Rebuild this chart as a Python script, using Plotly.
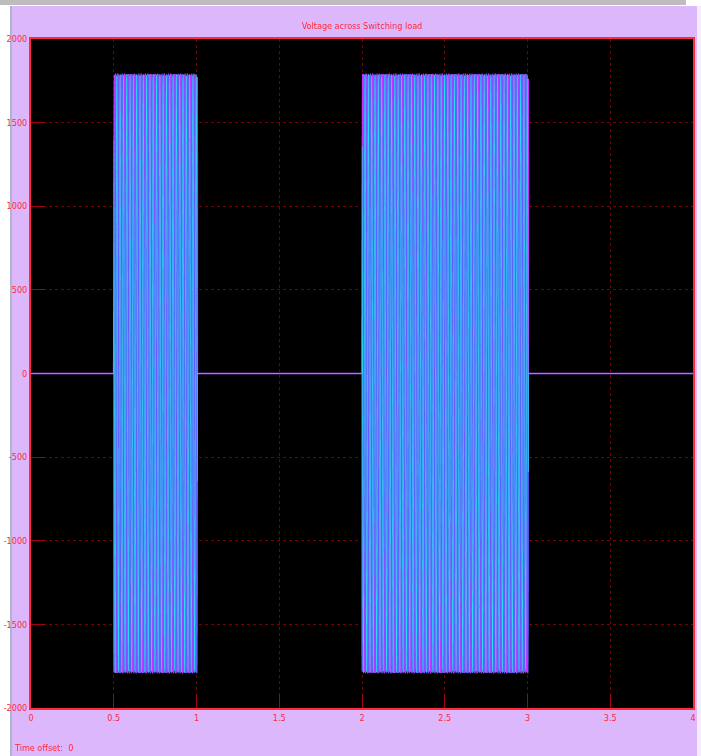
import numpy as np
import plotly.graph_objects as go

# ---- values ----
title_text = "Voltage across Switching load"
x_range = [0, 4]
y_range = [-2000, 2000]
x_ticks = [0, 0.5, 1, 1.5, 2, 2.5, 3, 3.5, 4]
x_tick_labels = ["0", "0.5", "1", "1.5", "2", "2.5", "3", "3.5", "4"]
y_ticks = [-2000, -1500, -1000, -500, 0, 500, 1000, 1500, 2000]
y_tick_labels = ["-2000", "-1500", "-1000", "-500", "0", "500", "1000", "1500", "2000"]

on_intervals = [(0.5, 1.005), (2.0, 3.005)]   # load switched on (s)
amplitude = 1790.0                              # peak voltage (V)
frequency = 50.0                                # Hz
sample_time = 0.0007                            # scope sample time (s)
phase_names = ["Va", "Vb", "Vc"]
phase_shifts_deg = [0, -120, 120]
phase_colors = ["#c832ff", "#5a62ff", "#26dcec"]
phase_widths = [1.6, 1.3, 0.65]

# ---- build waveform samples ----
t = np.arange(0, 4 + sample_time, sample_time)
on = np.zeros_like(t, dtype=bool)
for a, b in on_intervals:
    on |= (t >= a) & (t <= b)

fig = go.Figure()
for name, ph, col, w in zip(phase_names, phase_shifts_deg, phase_colors, phase_widths):
    v = amplitude * np.sin(2 * np.pi * frequency * t + np.deg2rad(ph))
    v = np.where(on, v, 0.0)
    fig.add_trace(go.Scattergl(x=t, y=v, mode="lines", name=name,
                               line=dict(color=col, width=w), hoverinfo="skip"))

W, H = 701, 756
L, R, T, B = 31, 8, 39, 48
pw, ph_ = W - L - R, H - T - B
def px(xp): return (xp - L) / pw
def py(yp): return (H - B - yp) / ph_

lav = "#dcb7fc"
red = "#ff2a3a"
shapes = [
    dict(type="rect", xref="paper", yref="paper", x0=px(0), x1=px(10), y0=py(H), y1=py(0),
         fillcolor="white", line_width=0, layer="below"),
    dict(type="rect", xref="paper", yref="paper", x0=px(10), x1=px(12), y0=py(H), y1=py(6),
         fillcolor="#aeb4d0", line_width=0, layer="below"),
    dict(type="rect", xref="paper", yref="paper", x0=px(0), x1=px(W), y0=py(6), y1=py(0),
         fillcolor="white", line_width=0, layer="below"),
    dict(type="rect", xref="paper", yref="paper", x0=px(0), x1=px(686), y0=py(5), y1=py(0),
         fillcolor="#bdbdbd", line_width=0, layer="below"),
    dict(type="rect", xref="paper", yref="paper", x0=px(697), x1=px(W), y0=py(H), y1=py(6),
         fillcolor="#f4eefc", line_width=0, layer="below"),
]

font_fam = "DejaVu Sans Condensed, Liberation Sans Narrow, Liberation Sans, sans-serif"
fig.update_layout(
    width=W, height=H,
    margin=dict(l=L, r=R, t=T, b=B, pad=0, autoexpand=False),
    paper_bgcolor=lav, plot_bgcolor="black",
    showlegend=False, hovermode=False,
    shapes=shapes,
    title=dict(text=title_text, x=(L + pw / 2) / W, xanchor="center",
               y=1 - 26 / H, yanchor="middle",
               font=dict(family=font_fam, size=9, color=red)),
    annotations=[dict(text="Time offset:  0", xref="paper", yref="paper",
                      x=px(12), y=py(748), xanchor="left", yanchor="middle",
                      showarrow=False, font=dict(family=font_fam, size=9, color=red))],
)
axis_common = dict(showline=True, linecolor=red, linewidth=2, mirror=True,
                   showgrid=True, gridcolor="#7a0000", griddash="dot", gridwidth=1,
                   ticks="inside", ticklen=14, tickcolor="#a00010", tickwidth=1,
                   zeroline=False, automargin=False,
                   tickfont=dict(family=font_fam, size=9, color=red))
fig.update_xaxes(range=x_range, tickvals=x_ticks, ticktext=x_tick_labels, **axis_common)
fig.update_yaxes(range=y_range, tickvals=y_ticks, ticktext=y_tick_labels, **axis_common)

fig.write_html("out.html", config={"displayModeBar": False},
               post_script="document.body.style.margin='0';document.body.style.overflow='hidden';")
